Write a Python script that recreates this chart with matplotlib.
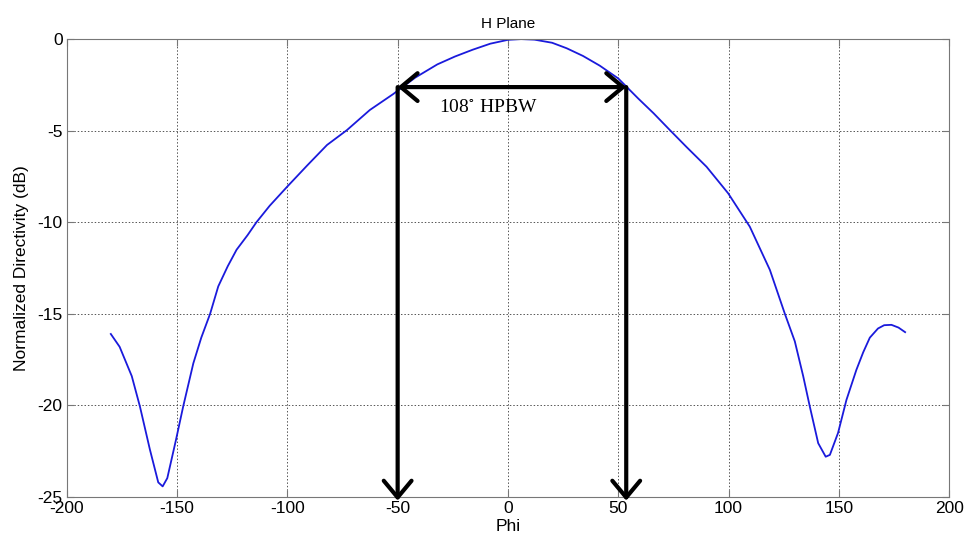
import matplotlib.pyplot as plt
import numpy as np

plt.rcParams['font.family'] = ['Liberation Sans', 'DejaVu Sans']
plt.rcParams['mathtext.fontset'] = 'stix'
plt.rcParams['axes.unicode_minus'] = False

# H-plane pattern
phi = [-180, -176, -170.5, -166.8, -162.3, -158.5, -156.5, -154.4, -150.5, -147.2,
       -142.6, -139, -135, -131.3, -127, -123, -118, -114, -108, -100, -91, -82, -73,
       -62.6, -52, -42, -32, -24, -16, -8, 0, 6, 12, 20, 26.6, 34, 41.6, 50, 59, 66,
       73.4, 81, 90, 99.8, 109.6, 118.7, 125.5, 130, 133.8, 136.8, 140.6, 144, 145.9,
       149.6, 153.4, 157.9, 161, 164, 167.7, 170.5, 173.8, 177, 180]
dB = [-16.1, -16.8, -18.4, -20.06, -22.4, -24.2, -24.42, -23.97, -21.9, -20.06,
      -17.7, -16.3, -15.0, -13.5, -12.4, -11.5, -10.7, -10.0, -9.1, -8.05, -6.9, -5.78,
      -4.97, -3.87, -3.0, -2.1, -1.38, -0.95, -0.58, -0.25, -0.04, 0.0, -0.03, -0.2,
      -0.5, -0.92, -1.45, -2.15, -3.24, -4.05, -4.97, -5.9, -6.97, -8.42, -10.24,
      -12.6, -15.0, -16.5, -18.4, -20.06, -22.06, -22.8, -22.7, -21.5, -19.7, -18.06,
      -17.1, -16.3, -15.8, -15.62, -15.6, -15.75, -16.0]

hp_left, hp_right, hp_level = -50, 53.6, -2.62
xticks = [-200, -150, -100, -50, 0, 50, 100, 150, 200]
yticks = [-25, -20, -15, -10, -5, 0]

fig = plt.figure(figsize=(9.72, 5.43), dpi=100)
ax = fig.add_axes([0.0686, 0.0847, 0.908, 0.8433])

ax.plot(phi, dB, color='#1a1adc', lw=1.3)

ax.set_xlim(-200, 200)
ax.set_ylim(-25, 0)
ax.set_xticks(xticks)
ax.set_yticks(yticks)
ax.grid(True, linestyle=(0, (1.5, 2)), color='#555555', lw=0.7)
ax.tick_params(direction='in', top=True, right=True, labelsize=12.5, length=5,
               color='#777777', pad=3)
for s in ax.spines.values():
    s.set_color('#777777')

arrow = dict(arrowstyle='->, head_length=0.6, head_width=0.5', lw=3, color='black',
             mutation_scale=20, shrinkA=0, shrinkB=0)
ax.annotate('', xy=(hp_left, -25.2), xytext=(hp_left, hp_level),
            arrowprops=arrow, annotation_clip=False)
ax.annotate('', xy=(hp_right, -25.2), xytext=(hp_right, hp_level),
            arrowprops=arrow, annotation_clip=False)
ax.annotate('', xy=(hp_left, hp_level), xytext=(hp_right, hp_level),
            arrowprops=dict(arrow, arrowstyle='<->, head_length=0.6, head_width=0.5'))

ax.text(-9, -3.74, r'108$^{\circ}$ HPBW', fontsize=14, family='Liberation Serif',
        ha='center', va='center')

ax.set_title('H Plane', fontsize=11, pad=8)
ax.set_xlabel('Phi', fontsize=12.5, labelpad=2)
ax.set_ylabel('Normalized Directivity (dB)', fontsize=12.5, labelpad=6)

fig.savefig('out.png', dpi=100)
